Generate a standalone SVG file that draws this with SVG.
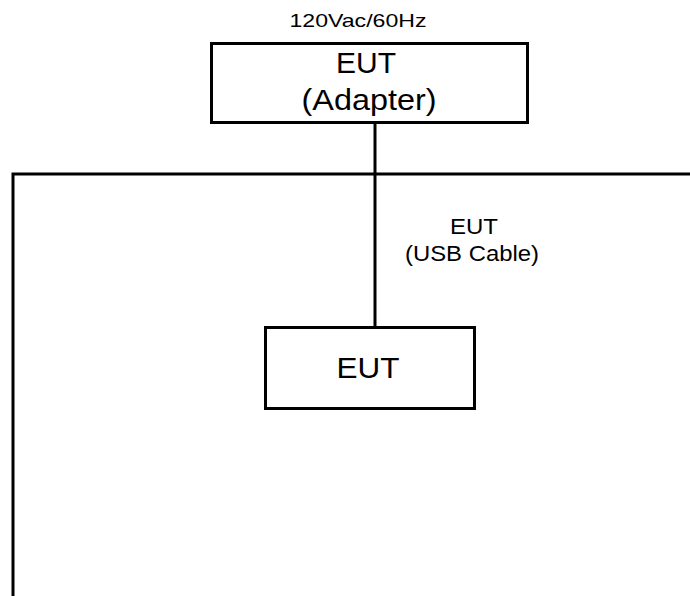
<svg xmlns="http://www.w3.org/2000/svg" width="690" height="596" viewBox="0 0 690 596">
<style>
.box{fill:#fff;stroke:#000;stroke-width:3}
.ln{fill:none;stroke:#000;stroke-width:3}
text{font-family:"Liberation Sans",Arial,sans-serif;fill:#000;text-anchor:middle}
</style>
<rect width="690" height="596" fill="#fff"/>
<g id="connectors">
<path class="ln" d="M375,123 V327"/>
<path class="ln" d="M690,174 H13 V596"/>
</g>
<g id="adapter">
<rect class="box" x="211.5" y="43.5" width="316" height="79"/>
<text x="366" y="73" font-size="30" textLength="60" lengthAdjust="spacingAndGlyphs">EUT</text>
<text x="369" y="110" font-size="30" textLength="135" lengthAdjust="spacingAndGlyphs">(Adapter)</text>
</g>
<g id="power-label">
<text x="358" y="27" font-size="19" textLength="137" lengthAdjust="spacingAndGlyphs">120Vac/60Hz</text>
</g>
<g id="cable-label">
<text x="474" y="234" font-size="22" textLength="48" lengthAdjust="spacingAndGlyphs">EUT</text>
<text x="472" y="261" font-size="22" textLength="134" lengthAdjust="spacingAndGlyphs">(USB Cable)</text>
</g>
<g id="eut">
<rect class="box" x="265.5" y="327.5" width="209" height="81"/>
<text x="368" y="378" font-size="30" textLength="63" lengthAdjust="spacingAndGlyphs">EUT</text>
</g>
</svg>
